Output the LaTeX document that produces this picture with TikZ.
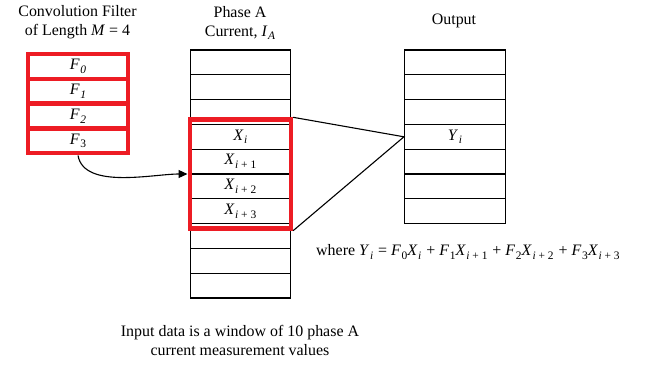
\documentclass[tikz,border=0pt]{standalone}
\usepackage{fontspec}
\setmainfont{Liberation Serif}
\usetikzlibrary{fit,arrows.meta}
\definecolor{redc}{RGB}{237,28,36}
\newcommand{\mysubs}[1]{\raisebox{-3.8bp}{\fontsize{11.5}{12}\selectfont #1}}
\newcommand{\myvar}[2]{\textit{#1}\kern0.6bp\mysubs{#2}}
\begin{document}
\begin{tikzpicture}[x=1bp,y=-1bp,
  txt/.style={font=\fontsize{16}{19}\selectfont, align=center, inner sep=0},
  cell/.style={draw=black, line width=1.1bp, minimum height=24.8bp, inner sep=0, font=\fontsize{16}{19}\selectfont},
  fcell/.style={draw=redc, line width=4.5bp, minimum width=100bp, minimum height=24.8bp, inner sep=0, font=\fontsize{16}{19}\selectfont},
  conn/.style={draw=black, line width=1.1bp}]
\useasboundingbox (0,0) rectangle (649,366);
% titles
\node[txt] (tf) at (77.5,22) {Convolution Filter\\of Length \textit{M} = 4};
\node[txt] (tp) at (240,23) {Phase A\\Current, \textit{I}\kern0.6bp\mysubs{\textit{A}}};
\node[txt] (to) at (454,21) {Output};
% filter
\node[fcell] (f0) at (78,{54+12.4}) {\myvar{F}{\textit{0}}};
\node[fcell] (f1) at (78,{54+12.4+24.8}) {\myvar{F}{\textit{1}}};
\node[fcell] (f2) at (78,{54+12.4+2*24.8}) {\myvar{F}{\textit{2}}};
\node[fcell] (f3) at (78,{54+12.4+3*24.8}) {\myvar{F}{3}};
% phase A column
\foreach \i in {1,2,3,8,9,10}{
  \node[cell, minimum width=100bp] (p\i) at (240.3,{50+24.8*(\i-0.5)}) {};
}
\node[cell, minimum width=100bp] (p4) at (240.3,{50+24.8*3.5}) {\myvar{X}{\textit{i}}};
\node[cell, minimum width=100bp] (p5) at (240.3,{50+24.8*4.5}) {\myvar{X}{\textit{i} + 1}};
\node[cell, minimum width=100bp] (p6) at (240.3,{50+24.8*5.5}) {\myvar{X}{\textit{i} + 2}};
\node[cell, minimum width=100bp] (p7) at (240.3,{50+24.8*6.5}) {\myvar{X}{\textit{i} + 3}};
% output column
\foreach \i in {1,2,3,5,6,7}{
  \node[cell, minimum width=101bp] (o\i) at (455,{50+24.8*(\i-0.5)}) {};
}
\node[cell, minimum width=101bp] (o4) at (455,{50+24.8*3.5}) {\myvar{Y}{\textit{i}}};
% window
\node[draw=redc, line width=4.5bp, inner xsep=0, inner ysep=4.3bp, fit=(p4)(p7)] (win) {};
% connectors
\draw[conn] (win.north east) -- (o4.west) -- (win.south east);
\draw[conn, -{Triangle[length=9bp,width=8bp]}] (f3.south) to[out=-80,in=180,looseness=0.8] (win.west);
% equation
\node[txt, anchor=west] (eq) at (316,252) {where \myvar{Y}{\textit{i}}\kern1bp{} = \myvar{F}{0}\myvar{X}{\textit{i}}\kern1bp{} + \myvar{F}{1}\myvar{X}{\textit{i} + 1}\kern1bp{} + \myvar{F}{2}\myvar{X}{\textit{i} + 2}\kern1bp{} + \myvar{F}{3}\myvar{X}{\textit{i} + 3}};
\node[txt] (note) at (240,340) {Input data is a window of 10 phase A\\current measurement values};
\end{tikzpicture}
\end{document}
